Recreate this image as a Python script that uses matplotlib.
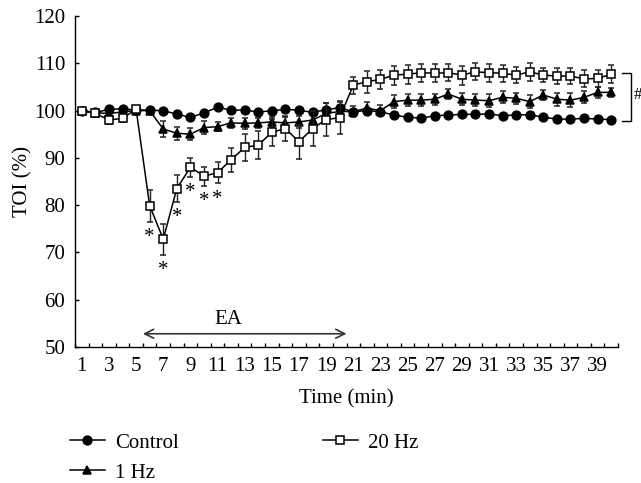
import numpy as np
import matplotlib
matplotlib.use("Agg")
import matplotlib.pyplot as plt

plt.rcParams['font.family'] = ['Liberation Serif', 'DejaVu Serif']
plt.rcParams['font.size'] = 15

minutes = list(range(1, 41))

control = [100.0, 99.6, 100.25, 100.4, 100.1, 100.1, 99.96, 99.26, 98.55, 99.5,
           100.7, 100.1, 100.1, 99.7, 99.96, 100.25, 100.1, 99.6, 100.2, 100.6,
           99.75, 100.0, 99.75, 99.05, 98.6, 98.4, 98.9, 99.05, 99.2, 99.2,
           99.3, 98.9, 99.1, 99.1, 98.6, 98.2, 98.2, 98.35, 98.2, 98.1]
control_err = [0.3, 0.3, 0.4, 0.4, 0.3, 0.4, 0.4, 0.5, 0.5, 0.4,
               0.4, 0.4, 0.4, 0.4, 0.4, 0.4, 0.4, 0.5, 1.4, 1.3,
               0.4, 0.4, 0.4, 0.4, 0.4, 0.4, 0.4, 0.4, 0.4, 0.4,
               0.4, 0.4, 0.4, 0.4, 0.4, 0.4, 0.4, 0.4, 0.4, 0.4]

hz1 = [100.0, 99.5, 99.4, 99.7, 100.0, 100.0, 96.1, 95.2, 95.0, 96.4,
       96.6, 97.4, 97.3, 97.4, 97.6, 97.4, 97.6, 98.0, 99.4, 99.8,
       99.8, 100.5, 100.0, 101.9, 102.2, 102.2, 102.4, 103.5, 102.4, 102.2,
       102.1, 102.8, 102.6, 101.9, 103.3, 102.4, 102.2, 102.8, 103.85, 103.85]
hz1_err = [0.3, 0.5, 0.6, 0.5, 0.4, 0.6, 1.7, 1.4, 1.3, 1.3,
           1.0, 1.0, 1.1, 1.0, 1.1, 1.2, 1.2, 1.1, 1.2, 1.3,
           1.2, 1.4, 1.2, 1.3, 1.3, 1.3, 1.2, 1.1, 1.3, 1.3,
           1.4, 1.3, 1.2, 1.3, 1.1, 1.4, 1.5, 1.3, 1.2, 1.0]

hz20 = [100.0, 99.4, 98.0, 98.35, 100.3, 79.9, 72.8, 83.5, 88.0, 86.15,
        86.85, 89.6, 92.2, 92.7, 95.4, 96.2, 93.4, 96.2, 98.1, 98.5,
        105.4, 106.1, 106.6, 107.5, 107.7, 108.0, 107.9, 108.0, 107.5, 108.2,
        108.0, 107.9, 107.5, 108.2, 107.5, 107.3, 107.3, 106.7, 106.8, 107.7]
hz20_err = [0.3, 0.5, 0.8, 0.8, 0.5, 3.4, 3.3, 2.8, 2.0, 2.0,
            2.2, 2.5, 2.8, 3.0, 2.8, 2.7, 3.6, 3.7, 3.5, 3.5,
            1.8, 2.3, 2.0, 2.0, 2.0, 1.9, 1.9, 1.8, 2.0, 1.8,
            1.9, 1.8, 1.7, 1.9, 1.5, 1.6, 1.7, 1.8, 1.8, 1.9]

sig_minutes = [6, 7, 8, 9, 10, 11]
ea_start, ea_end = 5.5, 20.5

fig = plt.figure(figsize=(6.41, 4.83), dpi=100)
ax = fig.add_axes([75 / 641, 1 - 347 / 483, (618 - 75) / 641, (347 - 16) / 483])

common = dict(color='black', ecolor='#222222', elinewidth=1.0, capsize=2.5,
              capthick=1.0, linewidth=1.1, markersize=6.3, markeredgewidth=1.1)
eb1 = ax.errorbar(minutes, hz1, yerr=hz1_err, marker='^', markerfacecolor='black',
                  zorder=2, label='1 Hz', **common)
eb0 = ax.errorbar(minutes, control, yerr=control_err, marker='o', markerfacecolor='black',
                  zorder=3, label='Control', **common)
eb20 = ax.errorbar(minutes, hz20, yerr=hz20_err, marker='s', markerfacecolor='white',
                   zorder=4, label='20 Hz', **common)

# significance marks under the 20 Hz points
for m in sig_minutes:
    i = minutes.index(m)
    ax.text(m, hz20[i] - hz20_err[i] - 3.4, '*', ha='center', va='center', fontsize=15)

# EA period arrow
ax.annotate('', xy=(ea_start, 52.8), xytext=(ea_end, 52.8),
            arrowprops=dict(arrowstyle='<->', color='#333333', lw=1.2,
                            mutation_scale=16, shrinkA=0, shrinkB=0))
ax.text(11.8, 55.8, 'EA', ha='center', va='center', fontsize=15)

# bracket with # on the right
ax.plot([40.8, 41.45, 41.45, 40.8], [107.9, 107.9, 97.8, 97.8],
        color='black', lw=1.0, clip_on=False)
ax.text(41.65, 103.3, '#', ha='left', va='center', fontsize=12, clip_on=False)

ax.set_xlim(0.5, 40.5)
ax.set_ylim(50, 120)
ax.set_yticks(np.arange(50, 121, 10))
ax.set_xticks(minutes[::2])
ax.set_xticks(np.arange(0.5, 41, 1), minor=True)
ax.tick_params(axis='x', which='major', length=0, pad=7)
ax.tick_params(axis='x', which='minor', direction='in', length=3, width=1)
ax.tick_params(axis='y', direction='in', length=3, width=1, pad=7)
for s in ['top', 'right']:
    ax.spines[s].set_visible(False)
for s in ['left', 'bottom']:
    ax.spines[s].set_linewidth(1.0)

ax.set_xlabel('Time (min)', labelpad=10)
ax.set_ylabel('TOI (%)', labelpad=1)

fig.legend(handles=[eb0[0], eb1[0], eb20[0]], labels=['Control', '1 Hz', '20 Hz'],
           loc='upper left', bbox_to_anchor=(70 / 641, 1 - 433 / 483), ncol=2,
           frameon=False, handlelength=1.67, handletextpad=0.5, columnspacing=6.9,
           labelspacing=0.5, borderpad=0, borderaxespad=0, numpoints=1)

fig.savefig('out.png', dpi=100)
